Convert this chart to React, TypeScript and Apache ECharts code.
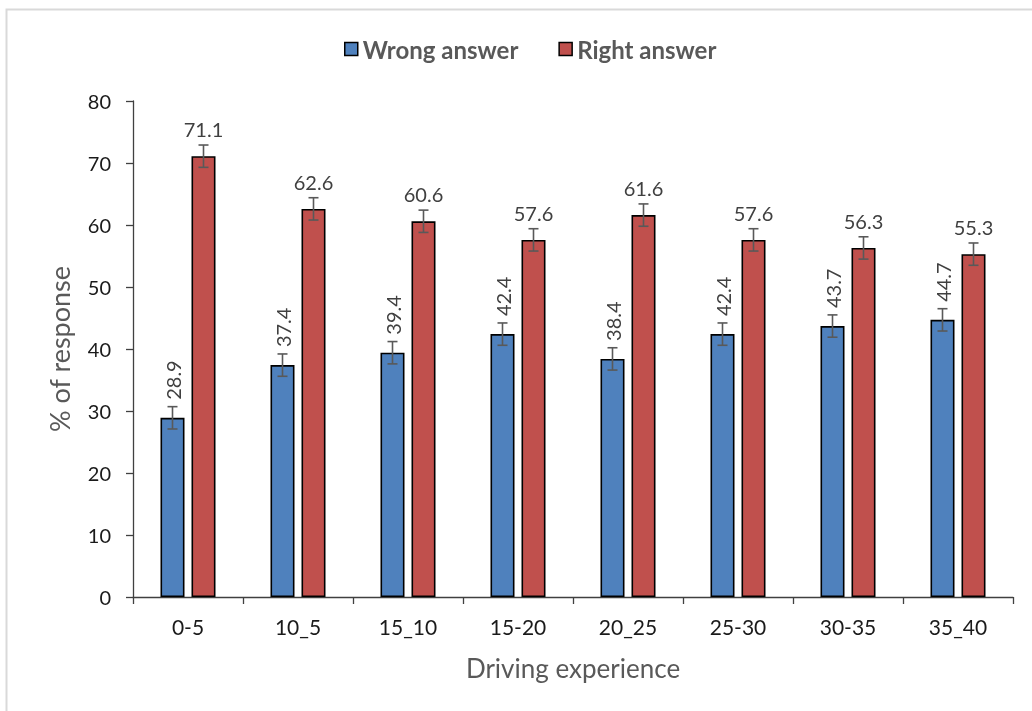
import React, { useEffect, useRef } from "react";
import * as echarts from "echarts";

const categories = ["0-5", "10_5", "15_10", "15-20", "20_25", "25-30", "30-35", "35_40"];
const wrongAnswer = [28.9, 37.4, 39.4, 42.4, 38.4, 42.4, 43.7, 44.7];
const rightAnswer = [71.1, 62.6, 60.6, 57.6, 61.6, 57.6, 56.3, 55.3];
const wrongError = [1.8, 1.8, 1.8, 1.8, 1.8, 1.8, 1.8, 1.8];
const rightError = [1.8, 1.8, 1.8, 1.8, 1.8, 1.8, 1.8, 1.8];
const seriesNames = ["Wrong answer", "Right answer"];
const yTicks = { min: 0, max: 80, interval: 10 };

const FONT = "Lato, 'Noto Sans', sans-serif";
const BAR_W = 24;
const BAR_GAP_PX = 7;

export default function App() {
  const ref = useRef<HTMLDivElement>(null);
  useEffect(() => {
    document.body.style.margin = "0";
    const chart = echarts.init(ref.current!, null, { renderer: "svg" });
    const offset = (BAR_W + BAR_GAP_PX) / 2;

    const errorSeries = (vals: number[], errs: number[], dx: number) => ({
      type: "custom",
      z: 10,
      silent: true,
      data: vals.map((v, i) => [i, v - errs[i], v + errs[i]]),
      renderItem: (params: any, api: any) => {
        const idx = api.value(0);
        const lo = api.coord([idx, api.value(1)]);
        const hi = api.coord([idx, api.value(2)]);
        const x = lo[0] + dx;
        const cap = 5;
        const style = { stroke: "#595959", lineWidth: 1.6 };
        return {
          type: "group",
          children: [
            { type: "line", shape: { x1: x, y1: hi[1], x2: x, y2: lo[1] }, style },
            { type: "line", shape: { x1: x - cap, y1: hi[1], x2: x + cap, y2: hi[1] }, style },
            { type: "line", shape: { x1: x - cap, y1: lo[1], x2: x + cap, y2: lo[1] }, style },
          ],
        };
      },
    });

    chart.setOption({
      animation: false,
      textStyle: { fontFamily: FONT },
      graphic: [
        {
          type: "rect",
          left: 4,
          top: 7,
          shape: { width: 1100, height: 800 },
          style: { fill: "none", stroke: "#d9d9d9", lineWidth: 2 },
          silent: true,
        },
      ],
      legend: {
        data: seriesNames,
        top: 32,
        left: 339,
        icon: "rect",
        itemWidth: 13,
        itemHeight: 13,
        itemGap: 40,
        itemStyle: { borderColor: "#000", borderWidth: 1.5 },
        textStyle: { fontFamily: FONT, fontSize: 24, fontWeight: "bold", color: "#595959" },
      },
      grid: { left: 133, right: 19, top: 101, bottom: 114, containLabel: false },
      xAxis: {
        type: "category",
        data: categories,
        name: "Driving experience",
        nameLocation: "middle",
        nameGap: 58,
        nameTextStyle: { fontFamily: FONT, fontSize: 26, color: "#595959" },
        axisLine: { lineStyle: { color: "#404040", width: 1.3 } },
        axisTick: { show: true, length: 7, lineStyle: { color: "#404040", width: 1.3 } },
        axisLabel: { fontFamily: FONT, fontSize: 21, color: "#1a1a1a", margin: 19 },
      },
      yAxis: {
        type: "value",
        min: yTicks.min,
        max: yTicks.max,
        interval: yTicks.interval,
        name: "% of response",
        nameLocation: "middle",
        nameGap: 60,
        nameTextStyle: { fontFamily: FONT, fontSize: 27, color: "#595959" },
        axisLine: { show: true, lineStyle: { color: "#404040", width: 1.3 } },
        axisTick: { show: true, length: 7, lineStyle: { color: "#404040", width: 1.3 } },
        axisLabel: { fontFamily: FONT, fontSize: 20, color: "#1a1a1a", margin: 22 },
        splitLine: { show: false },
      },
      series: [
        {
          name: seriesNames[0],
          type: "bar",
          data: wrongAnswer,
          barWidth: BAR_W,
          barGap: `${(BAR_GAP_PX / BAR_W) * 100}%`,
          itemStyle: { color: "#4F81BD", borderColor: "#000", borderWidth: 1.6 },
          label: {
            show: true,
            position: "top",
            distance: 18,
            rotate: 90,
            align: "left",
            verticalAlign: "middle",
            fontFamily: FONT,
            fontSize: 20,
            color: "#404040",
          },
        },
        {
          name: seriesNames[1],
          type: "bar",
          data: rightAnswer,
          barWidth: BAR_W,
          itemStyle: { color: "#C0504D", borderColor: "#000", borderWidth: 1.6 },
          label: {
            show: true,
            position: "top",
            distance: 17,
            fontFamily: FONT,
            fontSize: 20,
            color: "#404040",
          },
        },
        errorSeries(wrongAnswer, wrongError, -offset),
        errorSeries(rightAnswer, rightError, offset),
      ],
    });
    return () => chart.dispose();
  }, []);
  return <div ref={ref} style={{ position: "fixed", left: 0, top: 0, width: 1032, height: 711 }} />;
}
